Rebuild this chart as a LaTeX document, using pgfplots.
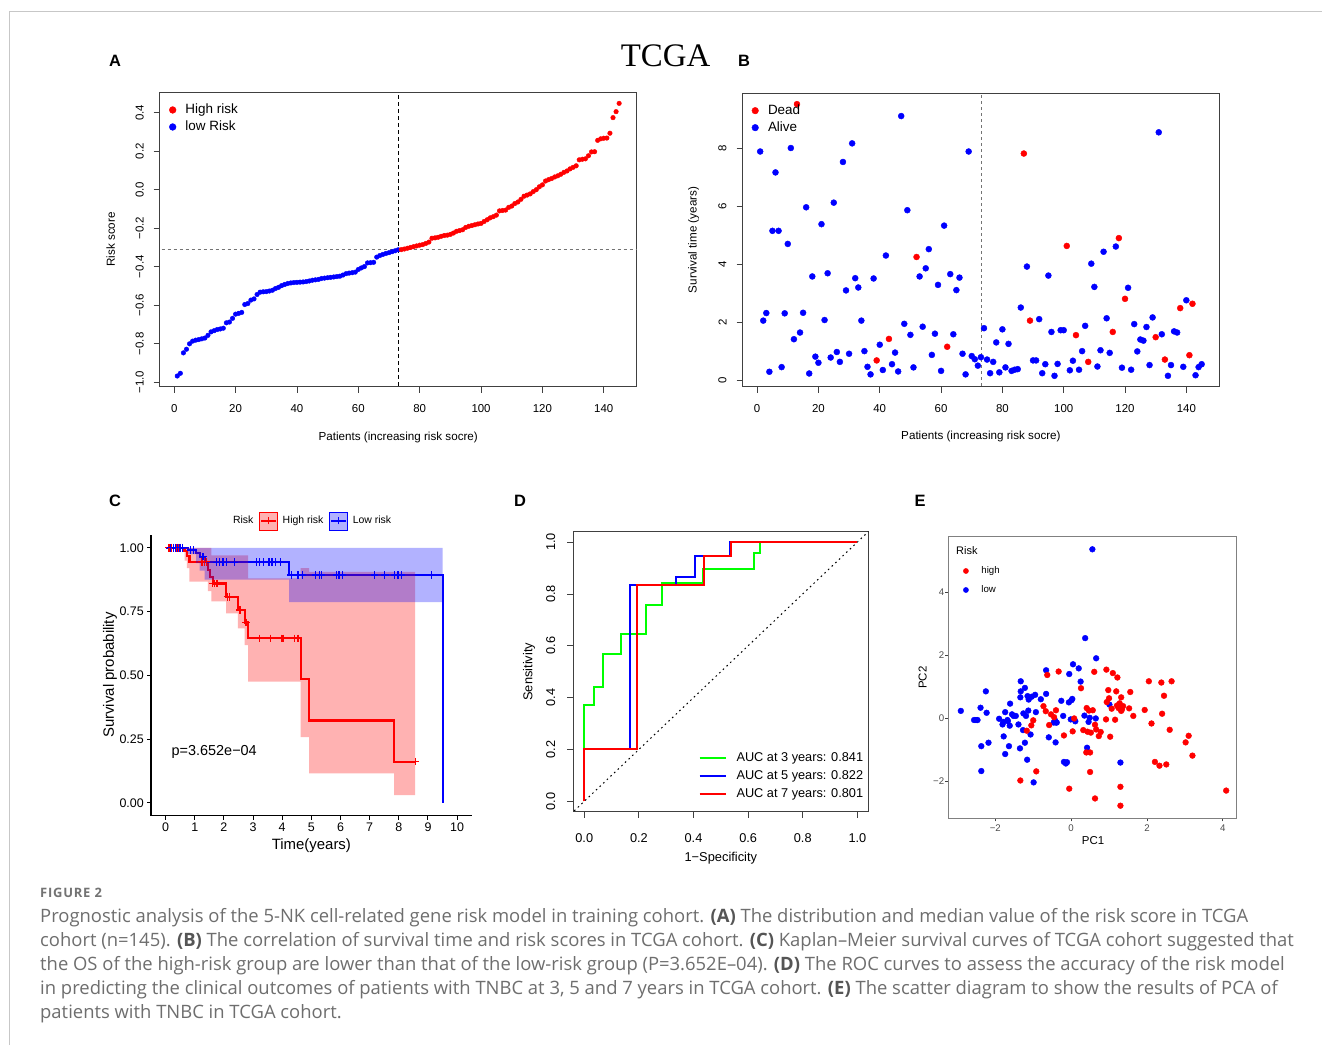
\documentclass[border=0pt]{standalone}
\usepackage{pgfplots}
\pgfplotsset{compat=1.18}
\usepackage{pgfplotstable}
\usepackage{fontspec}
\setmainfont{Liberation Sans}
\newfontfamily\titlefont{Liberation Serif}
\newfontfamily\capfont{Open Sans}
\newfontfamily\figfont[LetterSpace=6]{Open Sans}
\newcommand\fsz[1]{\fontsize{#1}{#1}\selectfont}
\definecolor{capgray}{HTML}{6E6E6E}
\definecolor{capbold}{HTML}{555555}
\definecolor{rred}{HTML}{FF0000}
\definecolor{rblue}{HTML}{0000FF}
\definecolor{rgreen}{HTML}{00FF00}

% ---------- A: risk score of each patient, sorted ----------
\pgfplotstableread{
i s
1 -0.967
2 -0.953
3 -0.847
4 -0.828
5 -0.800
6 -0.786
7 -0.781
8 -0.778
9 -0.774
10 -0.770
11 -0.756
12 -0.738
13 -0.732
14 -0.726
15 -0.723
16 -0.719
17 -0.691
18 -0.687
19 -0.668
20 -0.646
21 -0.642
22 -0.637
23 -0.596
24 -0.591
25 -0.573
26 -0.567
27 -0.544
28 -0.532
29 -0.530
30 -0.529
31 -0.526
32 -0.522
33 -0.513
34 -0.507
35 -0.498
36 -0.492
37 -0.487
38 -0.484
39 -0.482
40 -0.481
41 -0.480
42 -0.479
43 -0.477
44 -0.474
45 -0.470
46 -0.468
47 -0.466
48 -0.461
49 -0.459
50 -0.457
51 -0.455
52 -0.453
53 -0.451
54 -0.449
55 -0.443
56 -0.436
57 -0.433
58 -0.431
59 -0.428
60 -0.414
61 -0.406
62 -0.399
63 -0.380
64 -0.379
65 -0.377
66 -0.350
67 -0.342
68 -0.336
69 -0.331
70 -0.327
71 -0.322
72 -0.317
73 -0.312
}\riskLow
\pgfplotstableread{
i s
74 -0.311
75 -0.308
76 -0.304
77 -0.300
78 -0.296
79 -0.292
80 -0.288
81 -0.285
82 -0.279
83 -0.272
84 -0.252
85 -0.250
86 -0.247
87 -0.242
88 -0.238
89 -0.236
90 -0.232
91 -0.225
92 -0.216
93 -0.212
94 -0.208
95 -0.196
96 -0.190
97 -0.186
98 -0.182
99 -0.178
100 -0.175
101 -0.165
102 -0.156
103 -0.146
104 -0.140
105 -0.132
106 -0.110
107 -0.108
108 -0.106
109 -0.092
110 -0.085
111 -0.072
112 -0.064
113 -0.050
114 -0.034
115 -0.028
116 -0.022
117 -0.010
118 0.000
119 0.015
120 0.025
121 0.045
122 0.052
123 0.058
124 0.066
125 0.072
126 0.080
127 0.090
128 0.097
129 0.108
130 0.116
131 0.124
132 0.155
133 0.158
134 0.160
135 0.176
136 0.196
137 0.197
138 0.256
139 0.264
140 0.267
141 0.268
142 0.293
143 0.374
144 0.405
145 0.448
}\riskHigh

% ---------- B: survival time and status (d=1 dead) ----------
\pgfplotstableread{
i t d
1 7.89 0
2 2.07 0
3 2.33 0
4 0.31 0
5 5.16 0
6 7.17 0
7 5.16 0
8 0.47 0
9 2.32 0
10 4.71 0
11 8.01 0
12 1.43 0
13 9.52 1
14 1.66 0
15 2.34 0
16 5.97 0
17 0.25 0
18 3.59 0
19 0.83 0
20 0.62 0
21 5.39 0
22 2.09 0
23 3.70 0
24 0.80 0
25 6.13 0
26 0.99 0
27 0.65 0
28 7.53 0
29 3.11 0
30 0.93 0
31 8.17 0
32 3.53 0
33 3.21 0
34 2.07 0
35 1.02 0
36 0.48 0
37 0.22 0
38 3.52 0
39 0.70 1
40 1.24 0
41 0.37 0
42 4.31 0
43 1.44 1
44 0.57 0
45 0.97 0
46 0.32 0
47 9.11 0
48 1.96 0
49 5.87 0
50 1.58 0
51 0.46 0
52 4.26 1
53 3.59 0
54 1.86 0
55 3.87 0
56 4.53 0
57 0.89 0
58 1.62 0
59 3.30 0
60 0.34 0
61 5.34 0
62 1.17 1
63 3.67 0
64 1.60 0
65 3.12 0
66 3.55 0
67 0.93 0
68 0.22 0
69 7.89 0
70 0.85 0
71 0.74 0
72 0.52 0
73 0.81 0
74 1.81 0
75 0.73 0
76 0.26 0
77 0.65 0
78 1.32 0
79 0.29 0
80 1.77 0
81 0.46 0
82 1.27 0
83 0.34 0
84 0.38 0
85 0.40 0
86 2.52 0
87 7.82 1
88 3.93 0
89 2.07 1
90 0.70 0
91 0.70 0
92 2.12 0
93 0.26 0
94 0.57 0
95 3.62 0
96 1.68 0
97 0.17 0
98 0.58 0
99 1.74 0
100 1.74 0
101 4.64 1
102 0.36 0
103 0.69 0
104 1.57 1
105 0.38 0
106 1.02 0
107 1.89 0
108 0.65 1
109 4.03 0
110 3.23 0
111 0.49 0
112 1.05 0
113 4.44 0
114 2.15 0
115 0.96 0
116 1.68 1
117 4.62 0
118 4.91 1
119 0.45 0
120 2.82 1
121 3.20 0
122 0.38 0
123 1.95 0
124 1.01 0
125 1.42 0
126 1.38 0
127 1.85 0
128 0.54 0
129 2.18 0
130 1.50 1
131 8.55 0
132 1.60 0
133 0.73 1
134 0.17 0
135 0.54 0
136 1.70 0
137 1.66 0
138 2.50 1
139 0.48 0
140 2.77 0
141 0.88 1
142 2.65 1
143 0.19 0
144 0.47 0
145 0.57 0
}\survB

% ---------- C: Kaplan-Meier estimates ----------
\pgfplotstableread{
t S
0 1.000
0.65 0.987
0.73 0.969
0.82 0.945
1.45 0.913
1.52 0.886
1.62 0.860
2.08 0.808
2.48 0.756
2.71 0.707
2.83 0.645
4.63 0.485
4.92 0.323
7.84 0.162
8.56 0.162
}\kmHigh
\pgfplotstableread{
t S
0 1.000
0.77 0.991
1.05 0.980
1.17 0.965
1.34 0.943
4.24 0.893
9.50 0.893
9.50 0.000
}\kmLow
\pgfplotstableread{
t S
0.12 1.000
0.20 1.000
0.28 1.000
0.36 1.000
0.44 1.000
0.52 1.000
1.25 0.945
1.33 0.945
1.40 0.945
1.62 0.860
1.68 0.860
1.76 0.860
2.12 0.808
2.20 0.808
2.55 0.756
2.76 0.707
3.23 0.645
3.59 0.645
3.97 0.645
4.03 0.645
4.43 0.645
4.54 0.645
8.56 0.162
}\censHigh
\pgfplotstableread{
t S
0.18 1.000
0.26 1.000
0.33 1.000
0.41 1.000
0.49 1.000
0.58 1.000
0.86 0.991
0.96 0.991
1.28 0.965
1.74 0.943
1.85 0.943
1.97 0.943
2.10 0.943
2.37 0.943
3.11 0.943
3.23 0.943
3.36 0.943
3.55 0.943
3.65 0.943
3.76 0.943
3.95 0.943
4.31 0.893
4.54 0.893
4.69 0.893
5.15 0.893
5.29 0.893
5.34 0.893
5.86 0.893
5.95 0.893
6.07 0.893
7.17 0.893
7.52 0.893
7.86 0.893
7.97 0.893
8.09 0.893
9.12 0.893
}\censLow

% ---------- E: principal components ----------
\pgfplotstableread{
x y
-2.91 0.23
-2.56 -0.06
-2.51 -0.06
-2.47 -0.06
-2.39 0.33
-2.37 -0.89
-2.37 -1.68
-2.25 0.85
-2.23 0.17
-2.18 -0.78
-1.90 -0.02
-1.81 -0.20
-1.79 -0.12
-1.78 -0.58
-1.74 -1.14
-1.74 0.19
-1.68 -0.06
-1.67 -0.10
-1.64 -0.89
-1.62 -0.24
-1.61 0.46
-1.56 0.12
-1.52 0.07
-1.46 0.07
-1.39 -0.20
-1.35 -0.96
-1.33 1.17
-1.33 0.85
-1.34 0.66
-1.27 -0.38
-1.26 0.15
-1.22 0.96
-1.22 -0.78
-1.19 0.07
-1.16 -1.32
-1.15 0.70
-1.12 0.59
-1.13 0.24
-1.07 -0.52
-1.04 0.68
-0.95 0.74
-0.99 -2.04
-0.93 0.19
-0.80 0.60
-0.66 1.52
-0.66 0.77
-0.59 -0.61
-0.46 -0.14
-0.42 -0.08
-0.40 -0.14
-0.38 -0.14
-0.41 -0.77
-0.26 0.55
-0.21 0.07
-0.19 -1.39
-0.11 -1.40
-0.14 -1.44
-0.05 1.40
-0.06 0.50
-0.01 -0.04
0.01 0.57
0.03 0.61
0.05 1.71
0.11 -0.10
0.20 1.58
0.25 1.16
0.37 2.54
0.35 0.08
0.42 -0.94
0.46 -0.12
0.49 0.01
0.56 5.36
0.65 -0.01
0.66 1.90
1.01 0.43
1.30 -1.41
}\pcaLow
\pgfplotstableread{
x y
-1.34 -1.98
-1.17 -0.40
-1.05 -0.23
-1.00 -0.07
-0.92 -1.69
-0.73 0.38
-0.67 0.22
-0.63 1.37
-0.58 -0.22
-0.53 0.12
-0.45 0.03
-0.40 0.25
-0.33 1.48
-0.19 -0.55
-0.05 -2.24
0.04 -0.42
0.08 -0.01
0.26 0.95
0.32 -0.38
0.40 -1.09
0.41 0.32
0.43 -0.43
0.47 0.24
0.50 -1.09
0.50 -1.71
0.52 -0.46
0.57 0.25
0.61 1.47
0.63 -2.55
0.63 -0.21
0.66 -0.36
0.73 -0.57
0.78 -0.44
0.92 -0.04
0.93 1.54
0.94 0.51
0.98 0.89
1.00 0.63
1.03 -0.59
1.07 0.30
1.10 1.43
1.16 -0.05
1.19 0.85
1.22 1.29
1.21 0.40
1.25 0.32
1.28 0.47
1.30 -2.18
1.30 -2.78
1.32 0.66
1.34 0.28
1.37 0.38
1.32 0.23
1.53 0.31
1.56 0.83
1.64 0.07
1.94 0.26
2.05 1.17
2.12 -0.17
2.21 -1.39
2.33 -1.51
2.38 1.13
2.40 0.14
2.45 0.71
2.51 -1.47
2.60 -0.37
2.65 1.17
3.02 -0.77
3.10 -0.56
3.20 -1.19
4.09 -2.30
}\pcaHigh

\pgfplotsset{
  rbase/.style={
    scale only axis, anchor=south west,
    axis line style={black!75, line width=0.75bp},
    tick style={black!75, line width=0.75bp},
    tick align=outside, xtick pos=left, ytick pos=left,
    major tick length=6bp, minor tick num=0,
    /pgf/number format/assume math mode=true,
    tick label style={inner sep=0pt},
    legend style={draw=none, fill=none, inner sep=0pt, outer sep=0pt,
      cells={anchor=west}},
  },
}

\begin{document}
\begin{tikzpicture}[x=1bp,y=1bp]
\path[use as bounding box] (0,0) rectangle (1322,1045);
\fill[white] (0,0) rectangle (1322,1045);
\draw[black!22, line width=1bp] (9.5,0) -- (9.5,1033.5) -- (1322,1033.5);

\node[font=\titlefont\fsz{33}] at (665.5,989) {TCGA};
\node[font=\bfseries\fsz{16.5}] at (115,984) {A};
\node[font=\bfseries\fsz{16.5}] at (744,984) {B};
\node[font=\bfseries\fsz{16.5}] at (115,544) {C};
\node[font=\bfseries\fsz{16.5}] at (520,544) {D};
\node[font=\bfseries\fsz{16.5}] at (920,544) {E};

% ---------------- A ----------------
\begin{axis}[rbase, at={(159.6bp,658.3bp)}, width=477.2bp, height=294.4bp,
  xmin=-4.76, xmax=150.76, ymin=-1.0225, ymax=0.5055,
  xtick={0,20,...,140},
  ytick={-1,-0.8,-0.6,-0.4,-0.2,0,0.2,0.4},
  yticklabels={−1.0,−0.8,−0.6,−0.4,−0.2,0.0,0.2,0.4},
  tick label style={font=\fsz{11.5}},
  xticklabel style={anchor=center, yshift=-15.6bp},
  yticklabel style={xshift=-14bp, rotate=90, anchor=center},
  label style={font=\fsz{11.7}},
  xlabel={Patients (increasing risk socre)}, ylabel={Risk score},
  xlabel style={at={(axis description cs:0.5,-0.171)}, anchor=center},
  ylabel style={at={(axis description cs:-0.1025,0.5)}, anchor=center},
  legend style={at={(axis description cs:0.0199,0.962)}, anchor=north west,
    row sep=4bp, font=\fsz{13.5},
    nodes={inner sep=0pt, text height=10bp, text depth=3bp}},
  legend image code/.code={\fill[#1] (0bp,0bp) circle (3.4bp);
    \path (-3.4bp,0bp) (12.6bp,0bp);},
]
\addplot[forget plot, black, line width=0.8bp, dash pattern=on 4bp off 3bp]
  coordinates {(73,-1.2) (73,0.7)};
\addplot[forget plot, black!55, line width=0.8bp, dash pattern=on 3bp off 3bp]
  coordinates {(-10,-0.311) (160,-0.311)};
\addplot[forget plot, only marks, mark=*, mark size=2.3bp, rblue] table[x=i,y=s] {\riskLow};
\addplot[forget plot, only marks, mark=*, mark size=2.3bp, rred] table[x=i,y=s] {\riskHigh};
\addlegendimage{rred}\addlegendentry{High risk}
\addlegendimage{rblue}\addlegendentry{low Risk}
\end{axis}

% ---------------- B ----------------
\begin{axis}[rbase, at={(742.5bp,658.3bp)}, width=476.8bp, height=293.4bp,
  xmin=-4.76, xmax=150.76, ymin=-0.204, ymax=9.894,
  xtick={0,20,...,140}, ytick={0,2,4,6,8},
  tick label style={font=\fsz{11.5}},
  xticklabel style={anchor=center, yshift=-15.6bp},
  yticklabel style={xshift=-14bp, rotate=90, anchor=center},
  label style={font=\fsz{11.7}},
  xlabel={Patients (increasing risk socre)}, ylabel={Survival time (years)},
  xlabel style={at={(axis description cs:0.5,-0.1714)}, anchor=center},
  ylabel style={at={(axis description cs:-0.1026,0.5)}, anchor=center},
  legend style={at={(axis description cs:0.0193,0.9629)}, anchor=north west,
    row sep=4bp, font=\fsz{13.5},
    nodes={inner sep=0pt, text height=10bp, text depth=3bp}},
  legend image code/.code={\fill[#1] (0bp,0bp) circle (3.3bp);
    \path (-3.3bp,0bp) (12.6bp,0bp);},
]
\addplot[forget plot, black!55, line width=0.8bp, dash pattern=on 3bp off 3bp]
  coordinates {(73,-1) (73,11)};
\addplot[forget plot, only marks, mark=*, mark size=3bp, rblue,
  restrict expr to domain={\thisrow{d}}{0:0}] table[x=i,y=t] {\survB};
\addplot[forget plot, only marks, mark=*, mark size=3bp, rred,
  restrict expr to domain={\thisrow{d}}{1:1}] table[x=i,y=t] {\survB};
\addlegendimage{rred}\addlegendentry{Dead}
\addlegendimage{rblue}\addlegendentry{Alive}
\end{axis}

% ---------------- C ----------------
\begin{axis}[scale only axis, anchor=south west, at={(151bp,229.3bp)},
  width=320.7bp, height=280.7bp,
  xmin=-0.5, xmax=10.5, ymin=-0.05, ymax=1.05,
  axis x line*=bottom, axis y line*=left,
  axis line style={black, line width=1.1bp},
  tick style={black, line width=1bp}, major tick length=4bp, tick align=outside,
  /pgf/number format/assume math mode=true,
  xtick={0,1,...,10}, ytick={0,0.25,0.5,0.75,1},
  yticklabels={0.00,0.25,0.50,0.75,1.00},
  tick label style={font=\fsz{12.5}, inner sep=0pt},
  xticklabel style={anchor=center, yshift=-7.6bp},
  yticklabel style={anchor=east, xshift=-3bp},
  label style={font=\fsz{15}},
  xlabel={Time(years)}, ylabel={Survival probability},
  xlabel style={at={(axis description cs:0.5,-0.108)}, anchor=center},
  ylabel style={at={(axis description cs:-0.128,0.501)}, anchor=center},
  legend columns=-1,
  legend style={at={(axis description cs:0.2557,1.0499)}, anchor=west,
    draw=none, fill=none, inner sep=0pt, outer sep=0pt, font=\fsz{10.5},
    nodes={inner sep=0pt, text height=7.6bp, text depth=2.2bp}, cells={anchor=west}},
]
\addplot[forget plot, const plot, rred, line width=2.1bp] table[x=t,y=S] {\kmHigh};
\addplot[forget plot, only marks, mark=+, mark size=3.8bp, rred,
  mark options={line width=1.3bp}] table[x=t,y=S] {\censHigh};
\addplot[forget plot, const plot, rblue, line width=2.1bp] table[x=t,y=S] {\kmLow};
\addplot[forget plot, only marks, mark=+, mark size=3.8bp, rblue,
  mark options={line width=1.3bp}] table[x=t,y=S] {\censLow};
% confidence bands
\addplot[forget plot, fill=rred, fill opacity=0.3, draw=none] coordinates {
  (0.65,1) (1.57,1) (1.57,0.97) (2.83,0.97) (2.83,0.88) (4.63,0.88)
  (4.63,0.92) (4.92,0.92) (4.92,0.905) (8.56,0.905) (8.56,0.031)
  (7.84,0.031) (7.84,0.116) (4.92,0.116) (4.92,0.258) (4.63,0.258)
  (4.63,0.475) (2.83,0.475) (2.83,0.618) (2.71,0.618) (2.71,0.684)
  (2.48,0.684) (2.48,0.743) (2.08,0.743) (2.08,0.79) (1.57,0.79)
  (1.57,0.83) (1.45,0.83) (1.45,0.867) (0.82,0.867) (0.82,0.92)
  (0.73,0.92) (0.73,0.95) (0.65,0.95)} -- cycle;
\addplot[forget plot, fill=rblue, fill opacity=0.3, draw=none] coordinates {
  (0.77,1) (9.5,1) (9.5,0.787) (4.24,0.787) (4.24,0.875) (1.34,0.875)
  (1.34,0.91) (1.17,0.91) (1.17,0.94) (1.05,0.94) (1.05,0.975)
  (0.77,0.975)} -- cycle;
\node[anchor=west, font=\fsz{14.5}, inner sep=0pt] at (axis cs:0.2,0.199) {p=3.652e−04};
\addlegendimage{legend image code/.code={}}
\addlegendentry{Risk}
\addlegendimage{legend image code/.code={
  \path (-6bp,0bp) (23bp,0bp);
  \fill[rred, fill opacity=0.3] (0bp,-9bp) rectangle (18bp,9bp);
  \draw[rred, line width=1.6bp] (1.5bp,0bp) -- (16.5bp,0bp);
  \draw[rred, line width=1.2bp] (9bp,-3.5bp) -- (9bp,3.5bp);}}
\addlegendentry{High risk}
\addlegendimage{legend image code/.code={
  \path (-6bp,0bp) (23bp,0bp);
  \fill[rblue, fill opacity=0.3] (0bp,-9bp) rectangle (18bp,9bp);
  \draw[rblue, line width=1.6bp] (1.5bp,0bp) -- (16.5bp,0bp);
  \draw[rblue, line width=1.2bp] (9bp,-3.5bp) -- (9bp,3.5bp);}}
\addlegendentry{Low risk}
\end{axis}

% ---------------- D ----------------
\begin{axis}[rbase, at={(573.3bp,233.3bp)}, width=295bp, height=280bp,
  xmin=-0.04, xmax=1.04, ymin=-0.04, ymax=1.04,
  xtick={0,0.2,0.4,0.6,0.8,1}, ytick={0,0.2,0.4,0.6,0.8,1},
  xticklabels={0.0,0.2,0.4,0.6,0.8,1.0},
  yticklabels={0.0,0.2,0.4,0.6,0.8,1.0},
  tick label style={font=\fsz{12.8}},
  xticklabel style={anchor=center, yshift=-20.6bp},
  yticklabel style={xshift=-16.5bp, rotate=90, anchor=center},
  label style={font=\fsz{12.9}},
  xlabel={1−Specificity}, ylabel={Sensitivity},
  xlabel style={at={(axis description cs:0.5,-0.1664)}, anchor=center},
  ylabel style={at={(axis description cs:-0.150,0.5)}, anchor=center},
  legend style={at={(axis description cs:0.4244,0.2130)}, anchor=north west,
    row sep=5.35bp, font=\fsz{12.8},
    nodes={inner sep=0pt, text height=9.5bp, text depth=3bp}},
  legend image code/.code={\draw[#1] (0bp,0bp) -- (26bp,0bp);
    \path (0bp,0bp) (36bp,0bp);},
]
\addplot[forget plot, black, line width=1bp, dash pattern=on 1.6bp off 3.4bp]
  coordinates {(-0.05,-0.05) (1.05,1.05)};
\addplot[rgreen, line width=2bp] coordinates {
  (0,0) (0,0.371) (0.037,0.371) (0.037,0.441) (0.070,0.441) (0.070,0.570)
  (0.134,0.570) (0.134,0.645) (0.227,0.645) (0.227,0.757) (0.285,0.757)
  (0.285,0.843) (0.435,0.843) (0.435,0.897) (0.622,0.897) (0.622,0.956)
  (0.645,0.956) (0.645,1) (1,1)};
\addlegendentry{AUC at 3 years: 0.841}
\addplot[rblue, line width=2bp] coordinates {
  (0,0) (0,0.2) (0.167,0.2) (0.167,0.835) (0.337,0.835) (0.337,0.865)
  (0.407,0.865) (0.407,0.946) (0.532,0.946) (0.532,1) (1,1)};
\addlegendentry{AUC at 5 years: 0.822}
\addplot[rred, line width=2bp] coordinates {
  (0,0) (0,0.2) (0.194,0.2) (0.194,0.835) (0.437,0.835) (0.437,0.946)
  (0.536,0.946) (0.536,1) (1,1)};
\addlegendentry{AUC at 7 years: 0.801}
\end{axis}

% ---------------- E ----------------
\begin{axis}[scale only axis, anchor=south west, at={(948.3bp,226.7bp)},
  width=287.7bp, height=281.6bp,
  xmin=-3.24, xmax=4.35, ymin=-3.18, ymax=5.76,
  axis line style={black!50, line width=0.9bp},
  tick style={black!75, line width=0.8bp}, major tick length=3bp,
  tick align=outside, xtick pos=left, ytick pos=left,
  xtick={-2,0,2,4}, ytick={-2,0,2,4},
  xticklabels={−2,0,2,4}, yticklabels={−2,0,2,4},
  tick label style={font=\fsz{9.7}, text=black!70, inner sep=0pt},
  xticklabel style={anchor=center, yshift=-6.5bp},
  yticklabel style={anchor=east, xshift=-1bp},
  label style={font=\fsz{11.5}},
  xlabel={PC1}, ylabel={PC2},
  xlabel style={at={(axis description cs:0.503,-0.0806)}, anchor=center},
  ylabel style={at={(axis description cs:-0.089,0.5)}, anchor=center},
  legend style={at={(axis description cs:0.0514,0.896)}, anchor=north west,
    draw=none, fill=none, inner sep=0pt, outer sep=0pt,
    row sep=9bp, font=\fsz{9.7}, cells={anchor=west},
    nodes={inner sep=0pt, text height=7.5bp, text depth=2.5bp}},
  legend image code/.code={\fill[#1] (0bp,0bp) circle (2.6bp);
    \path (-2.6bp,0bp) (15.3bp,0bp);},
]
\addplot[forget plot, only marks, mark=*, mark size=2.9bp, rblue] table[x=x,y=y] {\pcaLow};
\addplot[forget plot, only marks, mark=*, mark size=2.9bp, rred] table[x=x,y=y] {\pcaHigh};
\node[anchor=west, font=\fsz{11}, inner sep=0pt] at (axis description cs:0.0268,0.950) {Risk};
\addlegendimage{rred}\addlegendentry{high}
\addlegendimage{rblue}\addlegendentry{low}
\end{axis}

% ---------------- caption ----------------
\node[anchor=base west, inner sep=0pt, font=\figfont\bfseries\fsz{13}, text=black!55]
  at (40,147.4) {FIGURE 2};
\begin{scope}[every node/.style={anchor=base west, inner sep=0pt,
    font=\capfont\fsz{18.5}, text=capgray}]
\node at (40,123) {Prognostic analysis of the 5-NK cell-related gene risk model in training cohort. \textcolor{capbold}{\bfseries(A)} The distribution and median value of the risk score in TCGA};
\node at (40,99) {cohort (n=145). \textcolor{capbold}{\bfseries(B)} The correlation of survival time and risk scores in TCGA cohort. \textcolor{capbold}{\bfseries(C)} Kaplan–Meier survival curves of TCGA cohort suggested that};
\node at (40,75) {the OS of the high-risk group are lower than that of the low-risk group (P=3.652E–04). \textcolor{capbold}{\bfseries(D)} The ROC curves to assess the accuracy of the risk model};
\node at (40,51) {in predicting the clinical outcomes of patients with TNBC at 3, 5 and 7 years in TCGA cohort. \textcolor{capbold}{\bfseries(E)} The scatter diagram to show the results of PCA of};
\node at (40,27) {patients with TNBC in TCGA cohort.};
\end{scope}
\end{tikzpicture}
\end{document}
